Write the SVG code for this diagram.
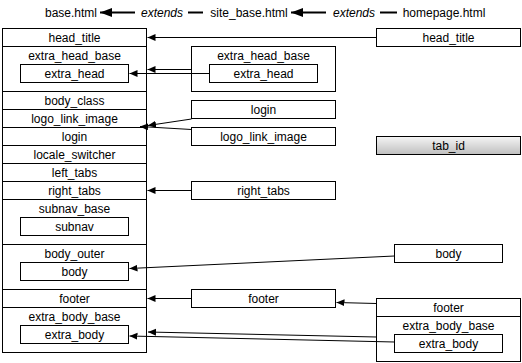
<svg xmlns="http://www.w3.org/2000/svg" width="522" height="363" viewBox="0 0 522 363">
  <style>
    text { font-family: "Liberation Sans", Arial, sans-serif; font-size: 12px; fill: #000; text-anchor: middle; }
    .em { font-style: italic; }
    rect { fill: #fff; stroke: #000; stroke-width: 1; }
    line.row { stroke: #000; stroke-width: 1; }
    .conn line { stroke: #000; stroke-width: 1; fill: none; marker-end: url(#arrow); }
    .ext line { stroke: #000; stroke-width: 2; }
    .ext line.arr { marker-end: url(#bigArrow); }
    rect.shade { fill: url(#shade); }
  </style>
  <defs>
    <marker id="arrow" markerUnits="userSpaceOnUse" markerWidth="10" markerHeight="8" refX="8" refY="3.5" orient="auto">
      <path d="M0,0 L8,3.5 L0,7 z" fill="#000"/>
    </marker>
    <marker id="bigArrow" markerUnits="userSpaceOnUse" markerWidth="14" markerHeight="10" refX="12" refY="4.5" orient="auto">
      <path d="M0,0 L12,4.5 L0,9 z" fill="#000"/>
    </marker>
    <linearGradient id="shade" x1="0" y1="0" x2="0" y2="1">
      <stop offset="0" stop-color="#f5f5f5"/>
      <stop offset="1" stop-color="#bfbfbf"/>
    </linearGradient>
  </defs>

  <!-- inheritance chain of templates -->
  <g id="chain" class="ext">
    <text x="71" y="16.5">base.html</text>
    <line class="arr" x1="135" y1="12.5" x2="100" y2="12.5"/>
    <text class="em" x="162" y="16.5">extends</text>
    <line x1="188" y1="12.5" x2="203" y2="12.5"/>
    <text x="249" y="16.5">site_base.html</text>
    <line class="arr" x1="326" y1="12.5" x2="291" y2="12.5"/>
    <text class="em" x="354" y="16.5">extends</text>
    <line x1="380" y1="12.5" x2="397" y2="12.5"/>
    <text x="444" y="16.5">homepage.html</text>
  </g>

  <!-- base.html blocks -->
  <g id="base">
    <rect x="2.5" y="28.5" width="144" height="324"/>
    <line class="row" x1="2.5" y1="46.5" x2="146.5" y2="46.5"/>
    <line class="row" x1="2.5" y1="91.5" x2="146.5" y2="91.5"/>
    <line class="row" x1="2.5" y1="109.5" x2="146.5" y2="109.5"/>
    <line class="row" x1="2.5" y1="127.5" x2="146.5" y2="127.5"/>
    <line class="row" x1="2.5" y1="145.5" x2="146.5" y2="145.5"/>
    <line class="row" x1="2.5" y1="163.5" x2="146.5" y2="163.5"/>
    <line class="row" x1="2.5" y1="181.5" x2="146.5" y2="181.5"/>
    <line class="row" x1="2.5" y1="199.5" x2="146.5" y2="199.5"/>
    <line class="row" x1="2.5" y1="244.5" x2="146.5" y2="244.5"/>
    <line class="row" x1="2.5" y1="289.5" x2="146.5" y2="289.5"/>
    <line class="row" x1="2.5" y1="307.5" x2="146.5" y2="307.5"/>
    <g id="base-head_title"><text x="74.5" y="41.8">head_title</text></g>
    <g id="base-extra_head_base">
      <text x="74.5" y="59.8">extra_head_base</text>
      <g id="base-extra_head"><rect x="20.5" y="64.5" width="108" height="18"/><text x="74.5" y="77.8">extra_head</text></g>
    </g>
    <g id="base-body_class"><text x="74.5" y="104.8">body_class</text></g>
    <g id="base-logo_link_image"><text x="74.5" y="122.8">logo_link_image</text></g>
    <g id="base-login"><text x="74.5" y="140.8">login</text></g>
    <g id="base-locale_switcher"><text x="74.5" y="158.8">locale_switcher</text></g>
    <g id="base-left_tabs"><text x="74.5" y="176.8">left_tabs</text></g>
    <g id="base-right_tabs"><text x="74.5" y="194.8">right_tabs</text></g>
    <g id="base-subnav_base">
      <text x="74.5" y="212.8">subnav_base</text>
      <g id="base-subnav"><rect x="20.5" y="217.5" width="108" height="18"/><text x="74.5" y="230.8">subnav</text></g>
    </g>
    <g id="base-body_outer">
      <text x="74.5" y="257.8">body_outer</text>
      <g id="base-body"><rect x="20.5" y="262.5" width="108" height="18"/><text x="74.5" y="275.8">body</text></g>
    </g>
    <g id="base-footer"><text x="74.5" y="302.8">footer</text></g>
    <g id="base-extra_body_base">
      <text x="74.5" y="320.8">extra_body_base</text>
      <g id="base-extra_body"><rect x="20.5" y="325.5" width="108" height="18"/><text x="74.5" y="338.8">extra_body</text></g>
    </g>
  </g>

  <!-- site_base.html blocks -->
  <g id="site-extra_head_base">
    <rect x="191.5" y="46.5" width="144" height="45"/>
    <text x="263.5" y="59.8">extra_head_base</text>
    <g id="site-extra_head"><rect x="209.5" y="64.5" width="108" height="18"/><text x="263.5" y="77.8">extra_head</text></g>
  </g>
  <g id="site-login"><rect x="191.5" y="100.5" width="144" height="18"/><text x="263.5" y="113.8">login</text></g>
  <g id="site-logo_link_image"><rect x="191.5" y="127.5" width="144" height="18"/><text x="263.5" y="140.8">logo_link_image</text></g>
  <g id="site-right_tabs"><rect x="191.5" y="181.5" width="144" height="18"/><text x="263.5" y="194.8">right_tabs</text></g>
  <g id="site-footer"><rect x="191.5" y="289.5" width="144" height="18"/><text x="263.5" y="302.8">footer</text></g>

  <!-- homepage.html blocks -->
  <g id="home-head_title"><rect x="376.5" y="28.5" width="144" height="18"/><text x="448.5" y="41.8">head_title</text></g>
  <g id="home-tab_id"><rect class="shade" x="376.5" y="136.5" width="144" height="18"/><text x="448.5" y="149.8">tab_id</text></g>
  <g id="home-body"><rect x="394.5" y="244.5" width="108" height="18"/><text x="448.5" y="257.8">body</text></g>
  <g id="home-footer-group">
    <rect x="376.5" y="298.5" width="144" height="63"/>
    <line class="row" x1="376.5" y1="316.5" x2="520.5" y2="316.5"/>
    <g id="home-footer"><text x="448.5" y="311.8">footer</text></g>
    <g id="home-extra_body_base">
      <text x="448.5" y="329.8">extra_body_base</text>
      <g id="home-extra_body"><rect x="394.5" y="334.5" width="108" height="18"/><text x="448.5" y="347.8">extra_body</text></g>
    </g>
  </g>

  <!-- overrides pointing back to the block they replace -->
  <g id="connectors" class="conn">
    <line x1="376.5" y1="37.5" x2="147.5" y2="37.5"/>
    <line x1="191.5" y1="69.5" x2="147.5" y2="69.5"/>
    <line x1="209.5" y1="73.5" x2="129.5" y2="73.5"/>
    <line x1="191.5" y1="119" x2="148" y2="125.5"/>
    <line x1="191.5" y1="129.5" x2="140" y2="126.5"/>
    <line x1="191.5" y1="190.5" x2="147.5" y2="190.5"/>
    <line x1="394.5" y1="256" x2="129.5" y2="268.5"/>
    <line x1="191.5" y1="298.5" x2="147.5" y2="298.5"/>
    <line x1="376.5" y1="303.5" x2="336.5" y2="302.5"/>
    <line x1="376.5" y1="337" x2="148" y2="332"/>
    <line x1="394.5" y1="342" x2="129.5" y2="336"/>
  </g>
</svg>
